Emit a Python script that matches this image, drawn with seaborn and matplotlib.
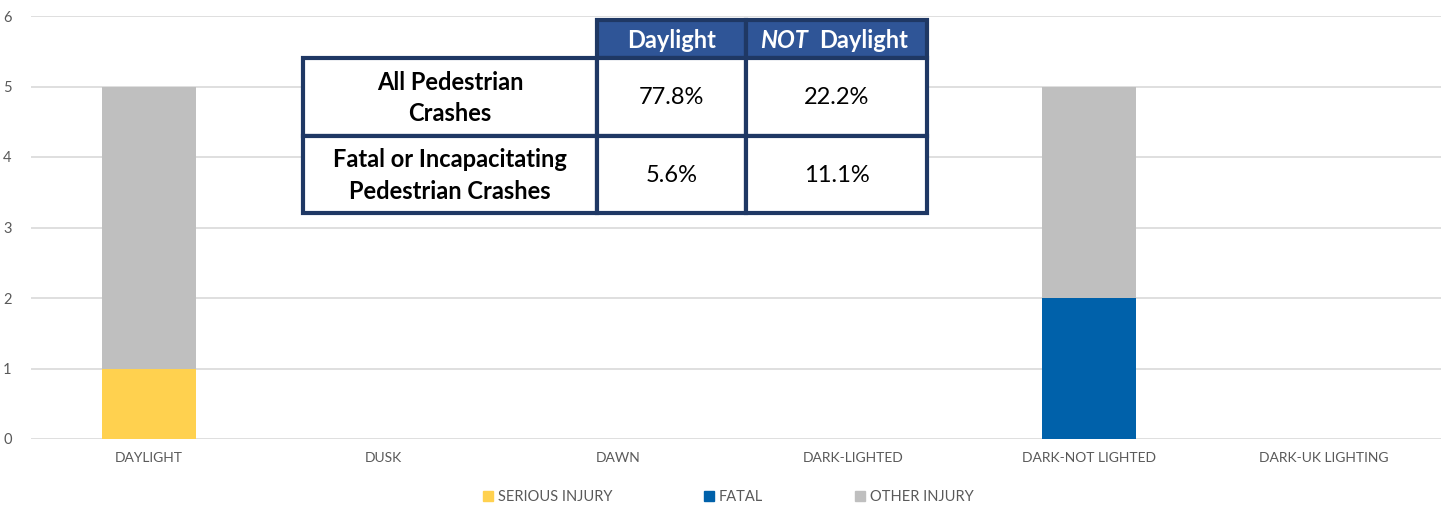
import matplotlib
matplotlib.use("Agg")
import matplotlib.pyplot as plt
from matplotlib.patches import Patch, Rectangle
import numpy as np
import pandas as pd
import seaborn as sns

# chart data
categories = ["DAYLIGHT", "DUSK", "DAWN", "DARK-LIGHTED", "DARK-NOT LIGHTED", "DARK-UK LIGHTING"]
serious_injury = [1, 0, 0, 0, 0, 0]
fatal = [0, 0, 0, 0, 2, 0]
other_injury = [4, 0, 0, 0, 3, 0]

# table data
table_cols = ["Daylight", "NOT Daylight"]
table_rows = ["All Pedestrian\nCrashes", "Fatal or Incapacitating\nPedestrian Crashes"]
table_vals = [["77.8%", "22.2%"], ["5.6%", "11.1%"]]

sns.set_style("white")
plt.rcParams['font.family'] = ['Lato', 'DejaVu Sans']

df = pd.DataFrame({"cat": categories, "serious": serious_injury,
                   "fatal": fatal, "other": other_injury})
df["s_f"] = df["serious"] + df["fatal"]
df["total"] = df["s_f"] + df["other"]

W, H = 1445, 508
fig = plt.figure(figsize=(W / 100, H / 100), dpi=100)
ax = fig.add_axes([31 / W, (H - 439) / H, (1441 - 31) / W, (439 - 16) / H])

col_serious = "#FFD14F"
col_fatal = "#0061AA"
col_other = "#BFBFBF"

# stacked bars: draw totals first, then cover from the bottom up
for col, c in [("total", col_other), ("s_f", col_fatal), ("serious", col_serious)]:
    sns.barplot(data=df, x="cat", y=col, color=c, width=0.4, ax=ax,
                saturation=1, linewidth=0)

ax.set_ylim(0, 6)
ax.set_xlim(-0.5, 5.5)
ax.set_yticks(range(7))
ax.set_xlabel("")
ax.set_ylabel("")
ax.grid(axis="y", color="#D9D9D9", linewidth=1.2)
ax.set_axisbelow(True)
for s in ax.spines.values():
    s.set_visible(False)
ax.tick_params(axis="y", length=0, labelsize=10.5, labelcolor="#595959", pad=14)
ax.tick_params(axis="x", length=0, labelsize=10, labelcolor="#595959", pad=9)

handles = [Patch(color=col_serious, label="SERIOUS INJURY"),
           Patch(color=col_fatal, label="FATAL"),
           Patch(color=col_other, label="OTHER INJURY")]
leg = fig.legend(handles=handles, loc="center", bbox_to_anchor=(0.504, (H - 497) / H),
                 ncol=3, frameon=False, fontsize=10.5, handlelength=0.7, handleheight=0.7,
                 handletextpad=0.3, columnspacing=6.3)
for t in leg.get_texts():
    t.set_color("#595959")

# summary table drawn on an overlay axes in pixel coordinates
tax = fig.add_axes([0, 0, 1, 1])
tax.set_xlim(0, W)
tax.set_ylim(H, 0)
tax.axis("off")

navy = "#1F3864"
head = "#2F5597"
xs = [303, 597, 746, 927]
ys = [20, 58, 136, 213]

# header cells
for j in range(2):
    tax.add_patch(Rectangle((xs[j + 1], ys[0]), xs[j + 2] - xs[j + 1], ys[1] - ys[0],
                            facecolor=head, edgecolor=navy, linewidth=3))
# body cells
for i in range(2):
    for j in range(3):
        tax.add_patch(Rectangle((xs[j], ys[i + 1]), xs[j + 1] - xs[j], ys[i + 2] - ys[i + 1],
                                facecolor="white", edgecolor=navy, linewidth=3))

fs = 17
hy = (ys[0] + ys[1]) / 2 + 1
tax.text((xs[1] + xs[2]) / 2, hy, table_cols[0], color="white",
         fontsize=fs, fontweight="bold", ha="center", va="center")
tax.text(808, hy, "NOT", color="white", fontsize=fs,
         fontweight="bold", fontstyle="italic", ha="right", va="center")
tax.text(819, hy, "Daylight", color="white", fontsize=fs,
         fontweight="bold", ha="left", va="center")

for i in range(2):
    yc = (ys[i + 1] + ys[i + 2]) / 2 + 1
    tax.text((xs[0] + xs[1]) / 2, yc, table_rows[i], color="black", fontsize=fs,
             fontweight="bold", ha="center", va="center", linespacing=1.45)
    for j in range(2):
        tax.text((xs[j + 1] + xs[j + 2]) / 2, yc, table_vals[i][j], color="black",
                 fontsize=fs, ha="center", va="center")

fig.savefig("out.png", dpi=100)
